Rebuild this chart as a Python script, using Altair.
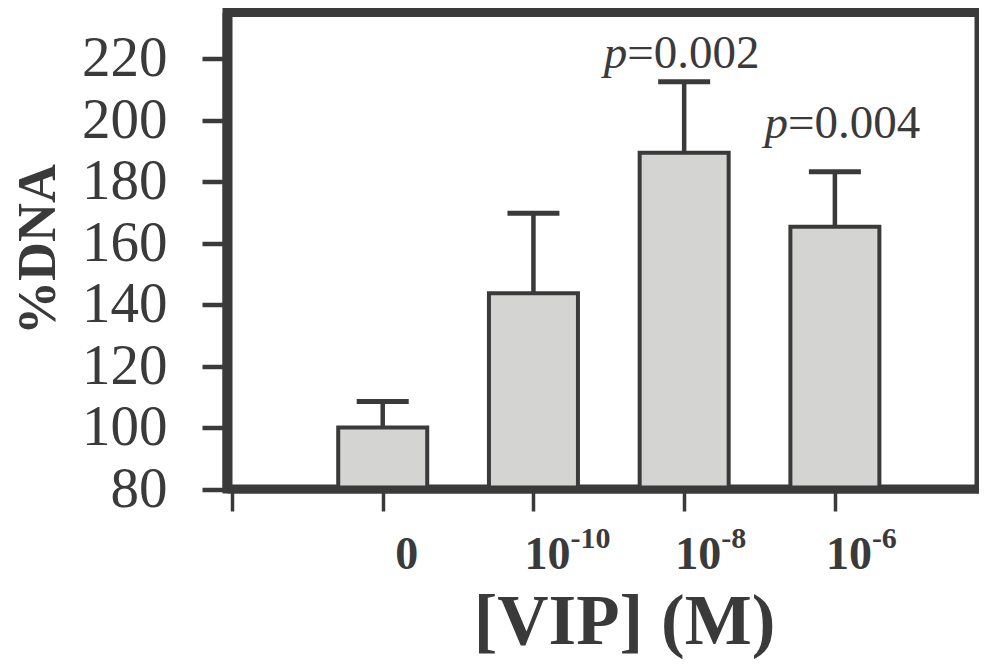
import altair as alt
import pandas as pd

# ---- data ----
positions = [1, 2, 3, 4]
base_labels = ["0", "10", "10", "10"]
sup_labels = ["", "-10", "-8", "-6"]
means = [100.0, 143.7, 189.4, 165.3]
err_tops = [108.5, 169.7, 212.5, 183.2]
p_values = ["", "", "0.002", "0.004"]

y_ticks = [80, 100, 120, 140, 160, 180, 200, 220]
x_ticks = [0, 1, 2, 3, 4]

df = pd.DataFrame({
    "pos": positions,
    "base": base_labels,
    "sup": sup_labels,
    "mean": means,
    "err": err_tops,
    "p": p_values,
})

DARK = "#3a3a3a"
FONT = "Liberation Serif"

x_enc = alt.X(
    "pos:Q",
    scale=alt.Scale(domain=[0, 4.923], nice=False, zero=False),
    axis=alt.Axis(
        values=x_ticks, labels=False, grid=False,
        tickSize=22, tickWidth=3.5, tickColor=DARK,
        domainColor=DARK, domainWidth=8,
        title="[VIP] (M)", titleFont=FONT, titleFontSize=71,
        titleFontWeight="bold", titleColor=DARK,
        titleX=397, titleY=154, titleBaseline="alphabetic", titleAlign="center",
        zindex=1,
    ),
)

y_scale = alt.Scale(domain=[80, 235], nice=False, zero=False)
y_enc = alt.Y(
    "mean:Q",
    scale=y_scale,
    axis=alt.Axis(
        values=y_ticks, grid=False, labelOverlap=False,
        tickSize=25, tickWidth=4.5, tickColor=DARK,
        labelFont=FONT, labelFontSize=57, labelColor=DARK, labelPadding=35,
        domainColor=DARK, domainWidth=10,
        title="%DNA", titleFont=FONT, titleFontSize=54, titleFontWeight="bold",
        titleColor=DARK, titleX=-189, titleY=236.5, titleAngle=270,
        titleBaseline="middle", titleAlign="center",
        zindex=1,
    ),
)

base = alt.Chart(df)

bars = base.mark_bar(size=89, fill="#d4d4d2", stroke=DARK, strokeWidth=4).encode(
    x=x_enc, y=y_enc, y2=alt.datum(80)
)

stems = base.mark_rule(strokeWidth=4.5, color=DARK).encode(
    x="pos:Q", y=alt.Y("mean:Q", scale=y_scale), y2="err:Q"
)

caps = base.mark_tick(
    orient="horizontal", size=52, thickness=5, color=DARK, opacity=1
).encode(x="pos:Q", y=alt.Y("err:Q", scale=y_scale))

# x tick labels (with superscripts)
zero_lbl = base.transform_filter("datum.pos == 1").mark_text(
    font=FONT, fontSize=46, fontWeight="bold", color=DARK,
    align="center", baseline="alphabetic", dx=24, dy=80,
).encode(x="pos:Q", y=alt.datum(80), text="base:N")

ten_lbl = base.transform_filter("datum.pos > 1").mark_text(
    font=FONT, fontSize=46, fontWeight="bold", color=DARK,
    align="center", baseline="alphabetic", dx=14, dy=80,
).encode(x="pos:Q", y=alt.datum(80), text="base:N")

sup_lbl = base.transform_filter("datum.pos > 1").mark_text(
    font=FONT, fontSize=30, fontWeight="bold", color=DARK,
    align="left", baseline="alphabetic", dx=37, dy=59,
).encode(x="pos:Q", y=alt.datum(80), text="sup:N")


# p-value annotations
def p_layer(pos, dx, dy):
    sub = base.transform_filter(f"datum.pos == {pos}").transform_calculate(
        rest="'=' + datum.p"
    )
    p_it = sub.mark_text(
        font=FONT, fontSize=47, fontStyle="italic", color=DARK,
        align="right", baseline="alphabetic", dx=dx, dy=dy,
    ).encode(x="pos:Q", y=alt.Y("err:Q", scale=y_scale), text=alt.value("p"))
    rest = sub.mark_text(
        font=FONT, fontSize=47, color=DARK,
        align="left", baseline="alphabetic", dx=dx, dy=dy,
    ).encode(x="pos:Q", y=alt.Y("err:Q", scale=y_scale), text="rest:N")
    return p_it + rest


chart = alt.layer(
    bars, stems, caps, zero_lbl, ten_lbl, sup_lbl,
    p_layer(3, -57, -14), p_layer(4, -47, -34),
).properties(
    width=752, height=476.5,
    autosize=alt.AutoSizeParams(type="none"),
    padding={"left": 219, "top": 4.5, "right": 0, "bottom": 170},
).configure_view(
    stroke=DARK, strokeWidth=9
)

chart.save("out.html", embed_options={"renderer": "svg", "actions": False})
